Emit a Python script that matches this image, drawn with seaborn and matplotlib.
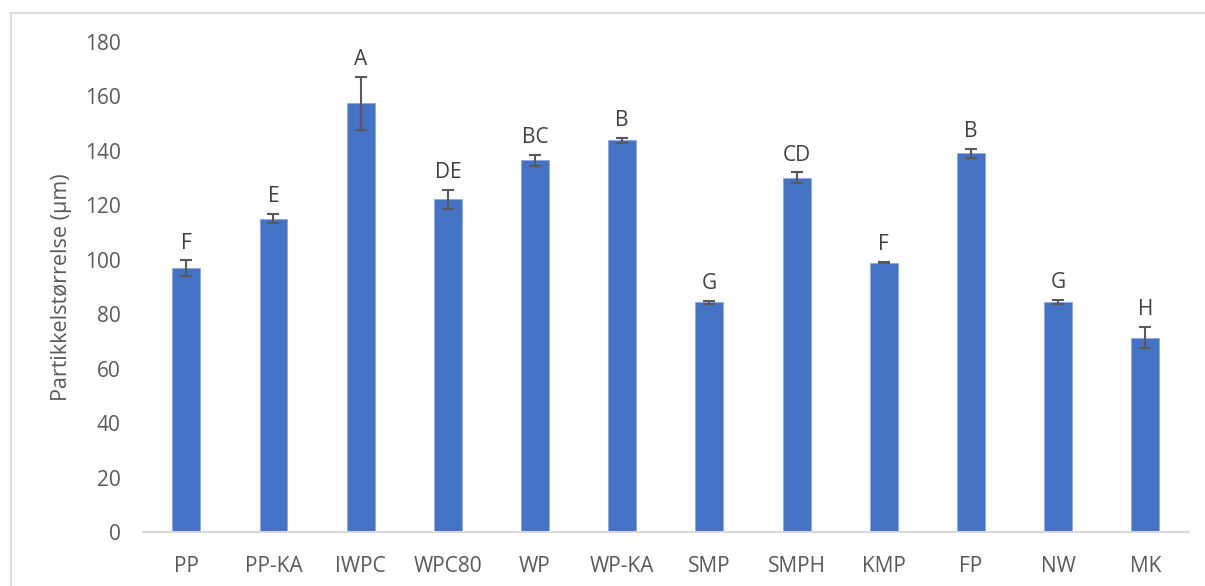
import matplotlib
matplotlib.use("Agg")
import matplotlib.pyplot as plt
import seaborn as sns
import pandas as pd
import numpy as np
from matplotlib.lines import Line2D

categories = ["PP", "PP-KA", "IWPC", "WPC80", "WP", "WP-KA", "SMP", "SMPH", "KMP", "FP", "NW", "MK"]
values = [97.0, 115.2, 157.5, 122.3, 136.6, 143.9, 84.5, 130.1, 99.0, 139.1, 84.6, 71.5]
errors = [2.8, 1.8, 9.7, 3.5, 2.0, 1.0, 0.5, 2.0, 0.3, 1.5, 0.8, 3.8]
letters = ["F", "E", "A", "DE", "BC", "B", "G", "CD", "F", "B", "G", "H"]

df = pd.DataFrame({"cat": categories, "val": values})

sns.set_theme(style="white")
plt.rcParams["font.family"] = ["Open Sans", "DejaVu Sans"]

fig = plt.figure(figsize=(12.05, 5.86), dpi=100)
ax = fig.add_axes([0.1184, 0.0916, 0.9867 - 0.1184, 0.9283 - 0.0916])

sns.barplot(data=df, x="cat", y="val", color="#4472C4", saturation=1,
            width=0.32, errorbar=None, ax=ax, edgecolor="#8FAADC", linewidth=0.6)

x = np.arange(len(categories))
ax.errorbar(x, values, yerr=errors, fmt="none", ecolor="#595959",
            elinewidth=1.5, capsize=4.5, capthick=1.5, zorder=3)

for xi, v, e, lab in zip(x, values, errors, letters):
    ax.annotate(lab, (xi, v + e), xytext=(0, 5), textcoords="offset points",
                ha="center", va="bottom", fontsize=15, color="#404040")

ax.set_ylim(0, 180)
ax.set_xlim(-0.5, len(categories) - 0.5)
ax.set_yticks(range(0, 181, 20))
ax.set_xlabel("")
ax.set_ylabel("Partikkelstørrelse (µm)", fontsize=15.5, color="#595959", labelpad=9)

for s in ["top", "right", "left"]:
    ax.spines[s].set_visible(False)
ax.spines["bottom"].set_color("#D9D9D9")
ax.spines["bottom"].set_linewidth(1.5)

ax.tick_params(axis="y", length=0, pad=16, labelsize=15, labelcolor="#595959")
ax.tick_params(axis="x", which="major", length=0, pad=17, labelsize=15, labelcolor="#595959")
ax.set_xticks(np.arange(-0.5, len(categories), 1.0), minor=True)
ax.tick_params(axis="x", which="minor", length=5, width=1.5, color="#D9D9D9", direction="out")

# outer chart border (only top and left visible in frame)
fig.add_artist(Line2D([10 / 1205, 1.0], [1 - 12.5 / 586, 1 - 12.5 / 586], transform=fig.transFigure,
                      color="#D9D9D9", linewidth=1.3))
fig.add_artist(Line2D([10.5 / 1205, 10.5 / 1205], [0, 1 - 12.5 / 586], transform=fig.transFigure,
                      color="#D9D9D9", linewidth=1.3))

fig.savefig("out.png", dpi=100)
